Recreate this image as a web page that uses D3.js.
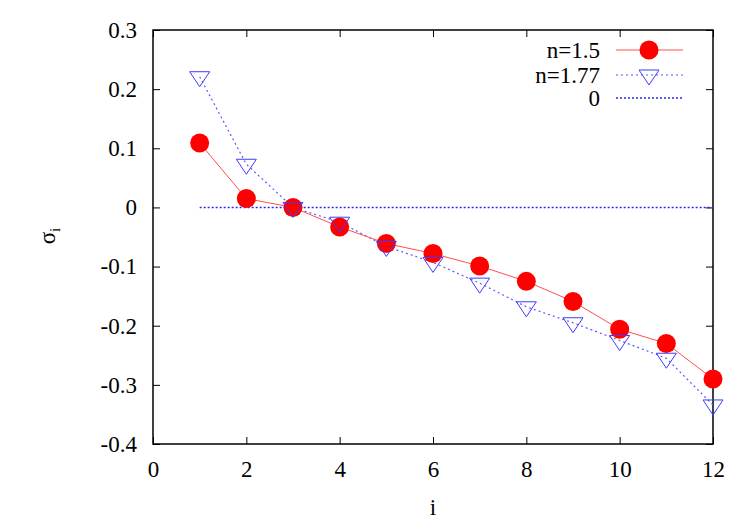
<!DOCTYPE html>
<html>
<head>
<meta charset="utf-8">
<script src="https://cdn.jsdelivr.net/npm/d3@7"></script>
</head>
<body style="margin:0;background:#fff">
<svg id="chart" width="750" height="525"></svg>
<script>
const idx = [1, 2, 3, 4, 5, 6, 7, 8, 9, 10, 11, 12];
const sigmaN150 = [0.109, 0.015, 0.0, -0.033, -0.061, -0.078, -0.099, -0.125, -0.159, -0.206, -0.230, -0.290];
const sigmaN177 = [0.221, 0.073, 0.0, -0.025, -0.066, -0.093, -0.128, -0.168, -0.195, -0.225, -0.255, -0.334];
const zeroLine = [0, 0];
const zeroRange = [1, 12];
const xTicks = [0, 2, 4, 6, 8, 10, 12];
const yTicks = [0.3, 0.2, 0.1, 0, -0.1, -0.2, -0.3, -0.4];
const legendLabels = ["n=1.5", "n=1.77", "0"];

const FONT = "Liberation Serif";
const FS = 23;
const svg = d3.select("#chart");
const L = 153, R = 713, T = 30, B = 444;
const x = d3.scaleLinear().domain([0, 12]).range([L, R]);
const y = d3.scaleLinear().domain([-0.4, 0.3]).range([B, T]);
const fmtY = v => (v === 0 ? "0" : v.toFixed(1));

// inward, mirrored axes built with d3 axis generators
const tickLen = 7;
function styleAxis(g) {
  g.attr("font-family", FONT).attr("font-size", FS);
  g.select(".domain").remove();
  g.selectAll(".tick line").attr("stroke", "#000").attr("stroke-width", 1);
  g.selectAll(".tick text").attr("fill", "#000").attr("font-family", FONT).attr("font-size", FS);
}
svg.append("g").attr("transform", `translate(0,${B})`)
  .call(d3.axisBottom(x).tickValues(xTicks).tickSizeInner(-tickLen).tickSizeOuter(0).tickPadding(17).tickFormat(v => String(v)))
  .call(styleAxis);
svg.append("g").attr("transform", `translate(0,${T})`)
  .call(d3.axisTop(x).tickValues(xTicks).tickSizeInner(-tickLen).tickSizeOuter(0).tickFormat(""))
  .call(styleAxis);
svg.append("g").attr("transform", `translate(${L},0)`)
  .call(d3.axisLeft(y).tickValues(yTicks).tickSizeInner(-tickLen).tickSizeOuter(0).tickPadding(16).tickFormat(fmtY))
  .call(styleAxis);
svg.append("g").attr("transform", `translate(${R},0)`)
  .call(d3.axisRight(y).tickValues(yTicks).tickSizeInner(-tickLen).tickSizeOuter(0).tickFormat(""))
  .call(styleAxis);

// frame
svg.append("rect").attr("x", L).attr("y", T).attr("width", R - L).attr("height", B - T)
  .attr("fill", "none").attr("stroke", "#000").attr("stroke-width", 1.5);

// zero line
svg.append("line")
  .attr("x1", x(zeroRange[0])).attr("x2", x(zeroRange[1]))
  .attr("y1", y(zeroLine[0])).attr("y2", y(zeroLine[1]))
  .attr("stroke", "#2828ee").attr("stroke-width", 1.5).attr("stroke-dasharray", "2,2");

const line = d3.line().x((d, i) => x(idx[i])).y(d => y(d));
svg.append("path").datum(sigmaN177).attr("d", line)
  .attr("fill", "none").attr("stroke", "#5a5aff").attr("stroke-width", 1.2).attr("stroke-dasharray", "2,3");
svg.append("path").datum(sigmaN150).attr("d", line)
  .attr("fill", "none").attr("stroke", "#ff5050").attr("stroke-width", 1);

// down triangle: base 1/3 of height above centre, apex 2/3 below
function triPath(cx, cy) {
  const w = 10, up = 5, down = 10;
  return `M${cx - w},${cy - up}L${cx + w},${cy - up}L${cx},${cy + down}Z`;
}
svg.append("g").selectAll("circle").data(sigmaN150).join("circle")
  .attr("cx", (d, i) => x(idx[i])).attr("cy", d => y(d)).attr("r", 9.5)
  .attr("fill", "#ff0000");
svg.append("g").selectAll("path").data(sigmaN177).join("path")
  .attr("d", (d, i) => triPath(x(idx[i]), y(d)))
  .attr("fill", "none").attr("stroke", "#3c3cff").attr("stroke-width", 1);

// legend
const lgX = 600, sx1 = 616, sx2 = 683, mx = 649;
const lgY = [50, 75, 98];
lgY.forEach((yy, k) => {
  svg.append("text").attr("x", lgX).attr("y", yy).attr("dy", "0.33em")
    .attr("text-anchor", "end").attr("font-family", FONT).attr("font-size", FS).text(legendLabels[k]);
});
svg.append("line").attr("x1", sx1).attr("x2", sx2).attr("y1", lgY[0]).attr("y2", lgY[0])
  .attr("stroke", "#ff5050").attr("stroke-width", 1);
svg.append("circle").attr("cx", mx).attr("cy", lgY[0]).attr("r", 9.5).attr("fill", "#ff0000");
svg.append("line").attr("x1", sx1).attr("x2", sx2).attr("y1", lgY[1]).attr("y2", lgY[1])
  .attr("stroke", "#5a5aff").attr("stroke-width", 1.2).attr("stroke-dasharray", "2,3");
svg.append("path").attr("d", triPath(mx, lgY[1])).attr("fill", "none").attr("stroke", "#3c3cff").attr("stroke-width", 1);
svg.append("line").attr("x1", sx1).attr("x2", sx2).attr("y1", lgY[2]).attr("y2", lgY[2])
  .attr("stroke", "#2828ee").attr("stroke-width", 1.5).attr("stroke-dasharray", "2,2");

// axis labels
svg.append("text").attr("x", 433).attr("y", 515).attr("text-anchor", "middle")
  .attr("font-family", FONT).attr("font-size", FS).text("i");
const yl = svg.append("text").attr("transform", "translate(55,236) rotate(-90)")
  .attr("text-anchor", "middle").attr("font-family", FONT).attr("font-size", FS);
yl.append("tspan").text("σ");
yl.append("tspan").attr("dy", 5).attr("font-size", 15).text("i");
</script>
</body>
</html>
